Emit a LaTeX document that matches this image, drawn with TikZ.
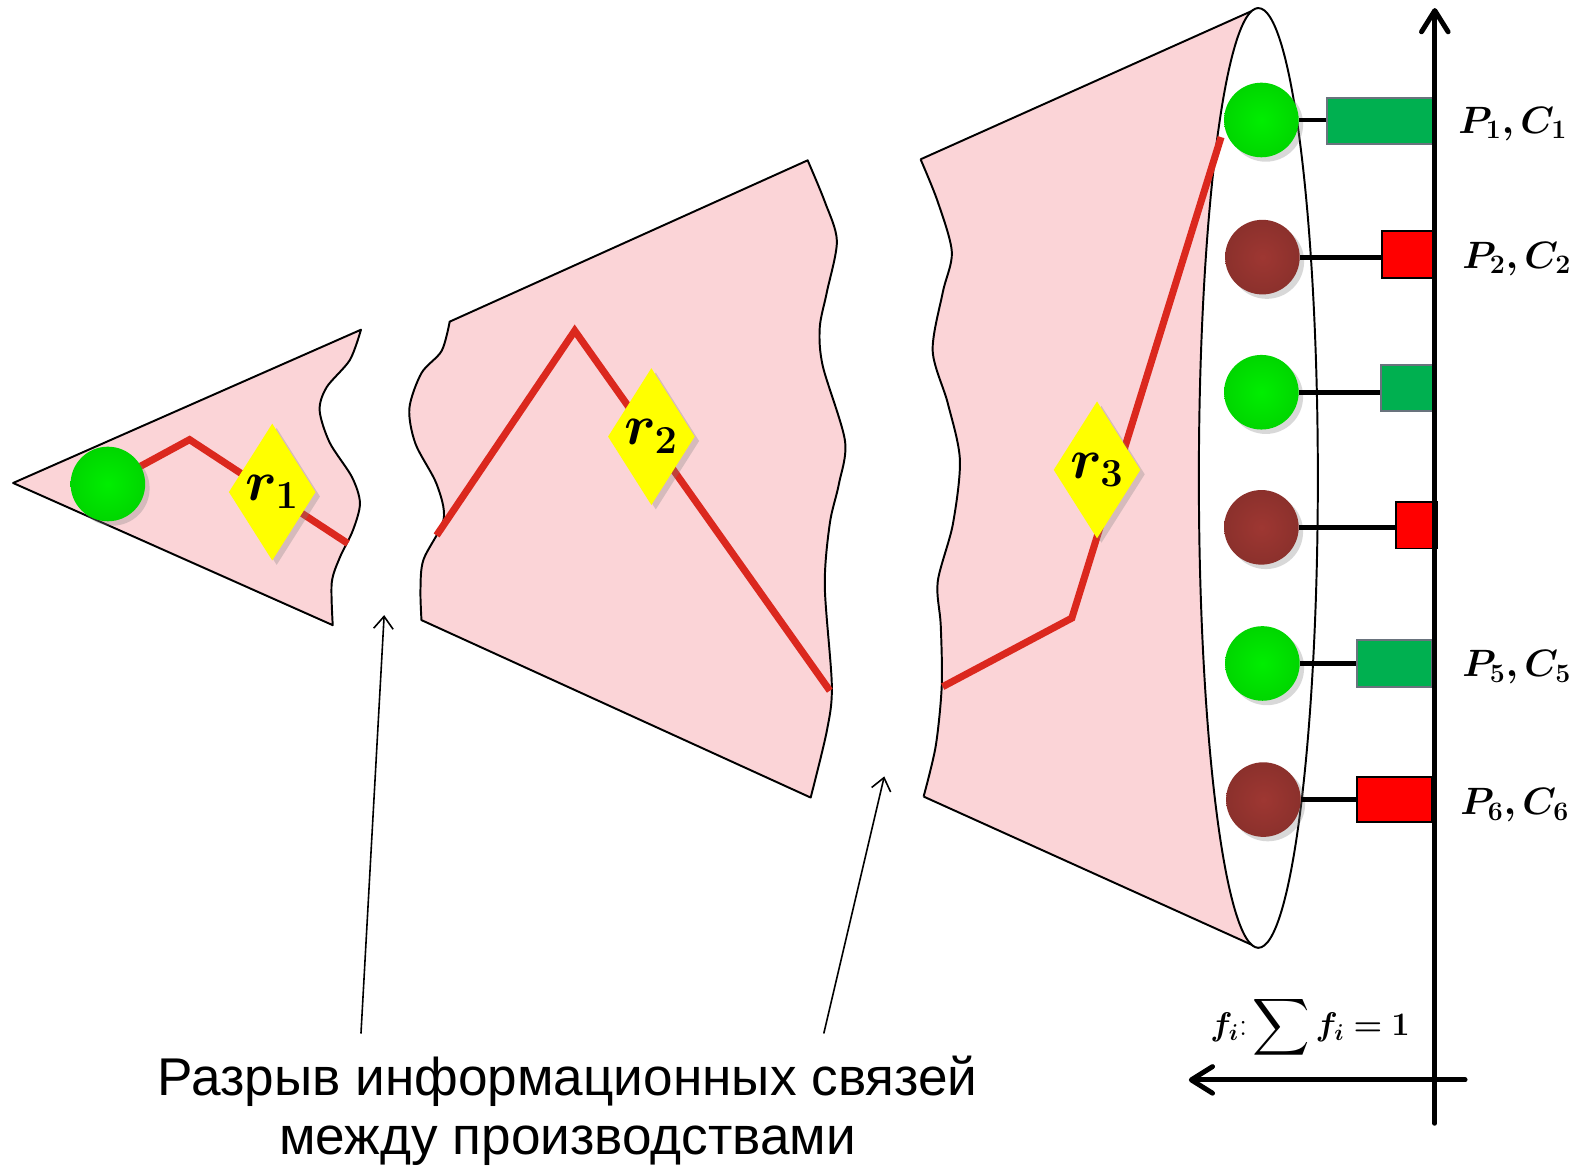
\documentclass[tikz,border=0pt]{standalone}
\usepackage{fix-cm}
\usepackage{amsmath}
\usepackage{fontspec}
\setmainfont{Liberation Sans}
\usepackage{bm}
\usetikzlibrary{shapes.geometric,shadows,arrows.meta}
\definecolor{conepink}{RGB}{251,212,215}
\definecolor{pathred}{RGB}{219,40,30}
\definecolor{ballgreen}{RGB}{0,238,0}
\definecolor{ballbrown}{RGB}{158,55,50}
\definecolor{rectgreen}{RGB}{0,176,80}
\definecolor{rectedge}{RGB}{105,115,125}
\definecolor{rectred}{RGB}{255,0,0}
\definecolor{diayellow}{RGB}{255,255,0}
\begin{document}
\begin{tikzpicture}[x=0.02cm,y=-0.02cm,
  cone/.style={fill=conepink,draw=black,line width=1.1pt,line join=round},
  coneedge/.style={draw=black,line width=1.1pt},
  redpath/.style={draw=pathred,line width=4pt,line join=miter},
  ballbase/.style={circle,inner sep=0pt,minimum size=1.48cm,drop shadow={opacity=0.3,shadow xshift=2.5pt,shadow yshift=-2.5pt}},
  gball/.style={ballbase,inner color=ballgreen,outer color=ballgreen!90!black},
  bball/.style={ballbase,inner color=ballbrown,outer color=ballbrown!88!black},
  diam/.style={diamond,inner sep=0pt,minimum width=1.68cm,minimum height=2.72cm,fill=diayellow,drop shadow={opacity=0.3,shadow xshift=2.5pt,shadow yshift=-2.5pt},font=\fontsize{32}{34}\selectfont},
  grect/.style={rectangle,inner sep=0pt,fill=rectgreen,draw=rectedge,line width=1.1pt,anchor=east},
  rrect/.style={rectangle,inner sep=0pt,fill=rectred,draw=black,line width=1.1pt,anchor=east},
  conn/.style={draw=black,line width=2.8pt},
  axis/.style={draw=black,line width=2.8pt,line cap=round,-{Straight Barb[length=12pt,width=15pt,line cap=round,line join=round]}},
  note/.style={draw=black,line width=0.9pt,-{Straight Barb[length=7pt,width=11pt]}},
  plabel/.style={anchor=base west,inner sep=0pt,font=\fontsize{21.5}{25}\selectfont},
  flabel/.style={anchor=base west,inner sep=0pt,font=\fontsize{18.5}{22}\selectfont},
  caption/.style={anchor=base,inner sep=0pt,font=\fontsize{30}{35}\selectfont}
]
\useasboundingbox (0,0) rectangle (1568,1160);

% ---------- cone 1
\draw[cone] (13,479) -- (358,327) -- plot[smooth] coordinates {(358,327) (347,357) (324,384) (317,407) (327,439) (349,473) (357,499) (350,526) (337,553) (329,578) (330,620)} -- cycle;
\coordinate (c1) at (107,480);
\draw[redpath] (c1) -- (188,436) -- (345,539);
\node[diam] (d1) at (270,488) {$\bm{r_1}$};
\node[gball] (b0) at (c1) {};

% ---------- cone 2
\draw[cone] (446,319) -- (801,159) -- plot[smooth] coordinates {(801,159) (818,200) (830,239) (820,290) (813,325) (816,363) (838,437) (832,480) (823,519) (818,581) (825,680) (820,725) (804,791)} -- (418,615) -- plot[smooth] coordinates {(418,615) (417,585) (420,555) (440,515) (433,480) (412,440) (406,405) (418,370) (438,348) (446,319)} -- cycle;
\draw[redpath] (433,531) -- (570,328) -- (823,685);
\node[diam] (d2) at (646,433) {$\bm{r_2}$};

% ---------- cone 3
\path[fill=conepink] (913,158) -- (1248,8) -- (1248,940) -- (916,790) -- plot[smooth] coordinates {(916,790) (928,740) (934,680) (933,620) (930,577) (945,520) (952,456) (940,400) (925,348) (935,290) (944,250) (930,200) (913,158)} -- cycle;
\draw[coneedge] (913,158) -- (1248,8);
\draw[coneedge] (916,790) -- (1248,940);
\draw[coneedge] plot[smooth] coordinates {(916,790) (928,740) (934,680) (933,620) (930,577) (945,520) (952,456) (940,400) (925,348) (935,290) (944,250) (930,200) (913,158)};
\draw[coneedge,fill=white] (1248,474) ellipse [x radius=59, y radius=466];
\draw[redpath] (935,681) -- (1063,613) -- (1211,136);
\node[diam] (d3) at (1088,466) {$\bm{r_3}$};

% ---------- balls, bars
\node[gball] (b1) at (1251,119) {};
\node[bball] (b2) at (1252,255) {};
\node[gball] (b3) at (1251,389) {};
\node[bball] (b4) at (1251,523) {};
\node[gball] (b5) at (1252,658) {};
\node[bball] (b6) at (1253,793) {};

\node[grect,minimum width=2.10cm,minimum height=0.92cm] (r1) at (1422,120) {};
\node[rrect,minimum width=1.00cm,minimum height=0.94cm] (r2) at (1422,252.5) {};
\node[grect,minimum width=1.02cm,minimum height=0.92cm] (r3) at (1422,385) {};
\node[rrect,minimum width=0.82cm,minimum height=0.92cm] (r4) at (1426,521) {};
\node[grect,minimum width=1.48cm,minimum height=0.94cm] (r5) at (1421,658) {};
\node[rrect,minimum width=1.48cm,minimum height=0.90cm] (r6) at (1421,793) {};

\foreach \i in {1,...,6}{
  \draw[conn] (b\i.east) -- (b\i.east -| r\i.west);
}

% ---------- axes
\coordinate (ybot) at (1423,1114);
\coordinate (ytop) at (1423,8);
\coordinate (xright) at (1453,1071);
\coordinate (xleft) at (1179,1071);
\draw[axis] (ybot) -- (ytop);
\draw[axis] (xright) -- (xleft);

% ---------- labels
\node[plabel] (l1) at (1446,132) {$\bm{P_1, C_1}$};
\node[plabel] (l2) at (1450,266) {$\bm{P_2, C_2}$};
\node[plabel] (l5) at (1450,671) {$\bm{P_5, C_5}$};
\node[plabel] (l6) at (1448,808) {$\bm{P_6, C_6}$};
\node[flabel] (lf) at (1200,1027) {$\bm{f_i}{:}\mathop{\vcenter{\hbox{\scalebox{1.3}{$\displaystyle\sum$}}}}\bm{f_i = 1}$};

% ---------- caption and arrows
\node[caption] (t1) at (563,1086) {Разрыв информационных связей};
\node[caption] (t2) at (563,1145) {между производствами};
\coordinate (a1s) at (358,1025);
\coordinate (a1e) at (381,610);
\coordinate (a2s) at (817,1025);
\coordinate (a2e) at (877,770);
\draw[note] (a1s) -- (a1e);
\draw[note] (a2s) -- (a2e);
\end{tikzpicture}
\end{document}
